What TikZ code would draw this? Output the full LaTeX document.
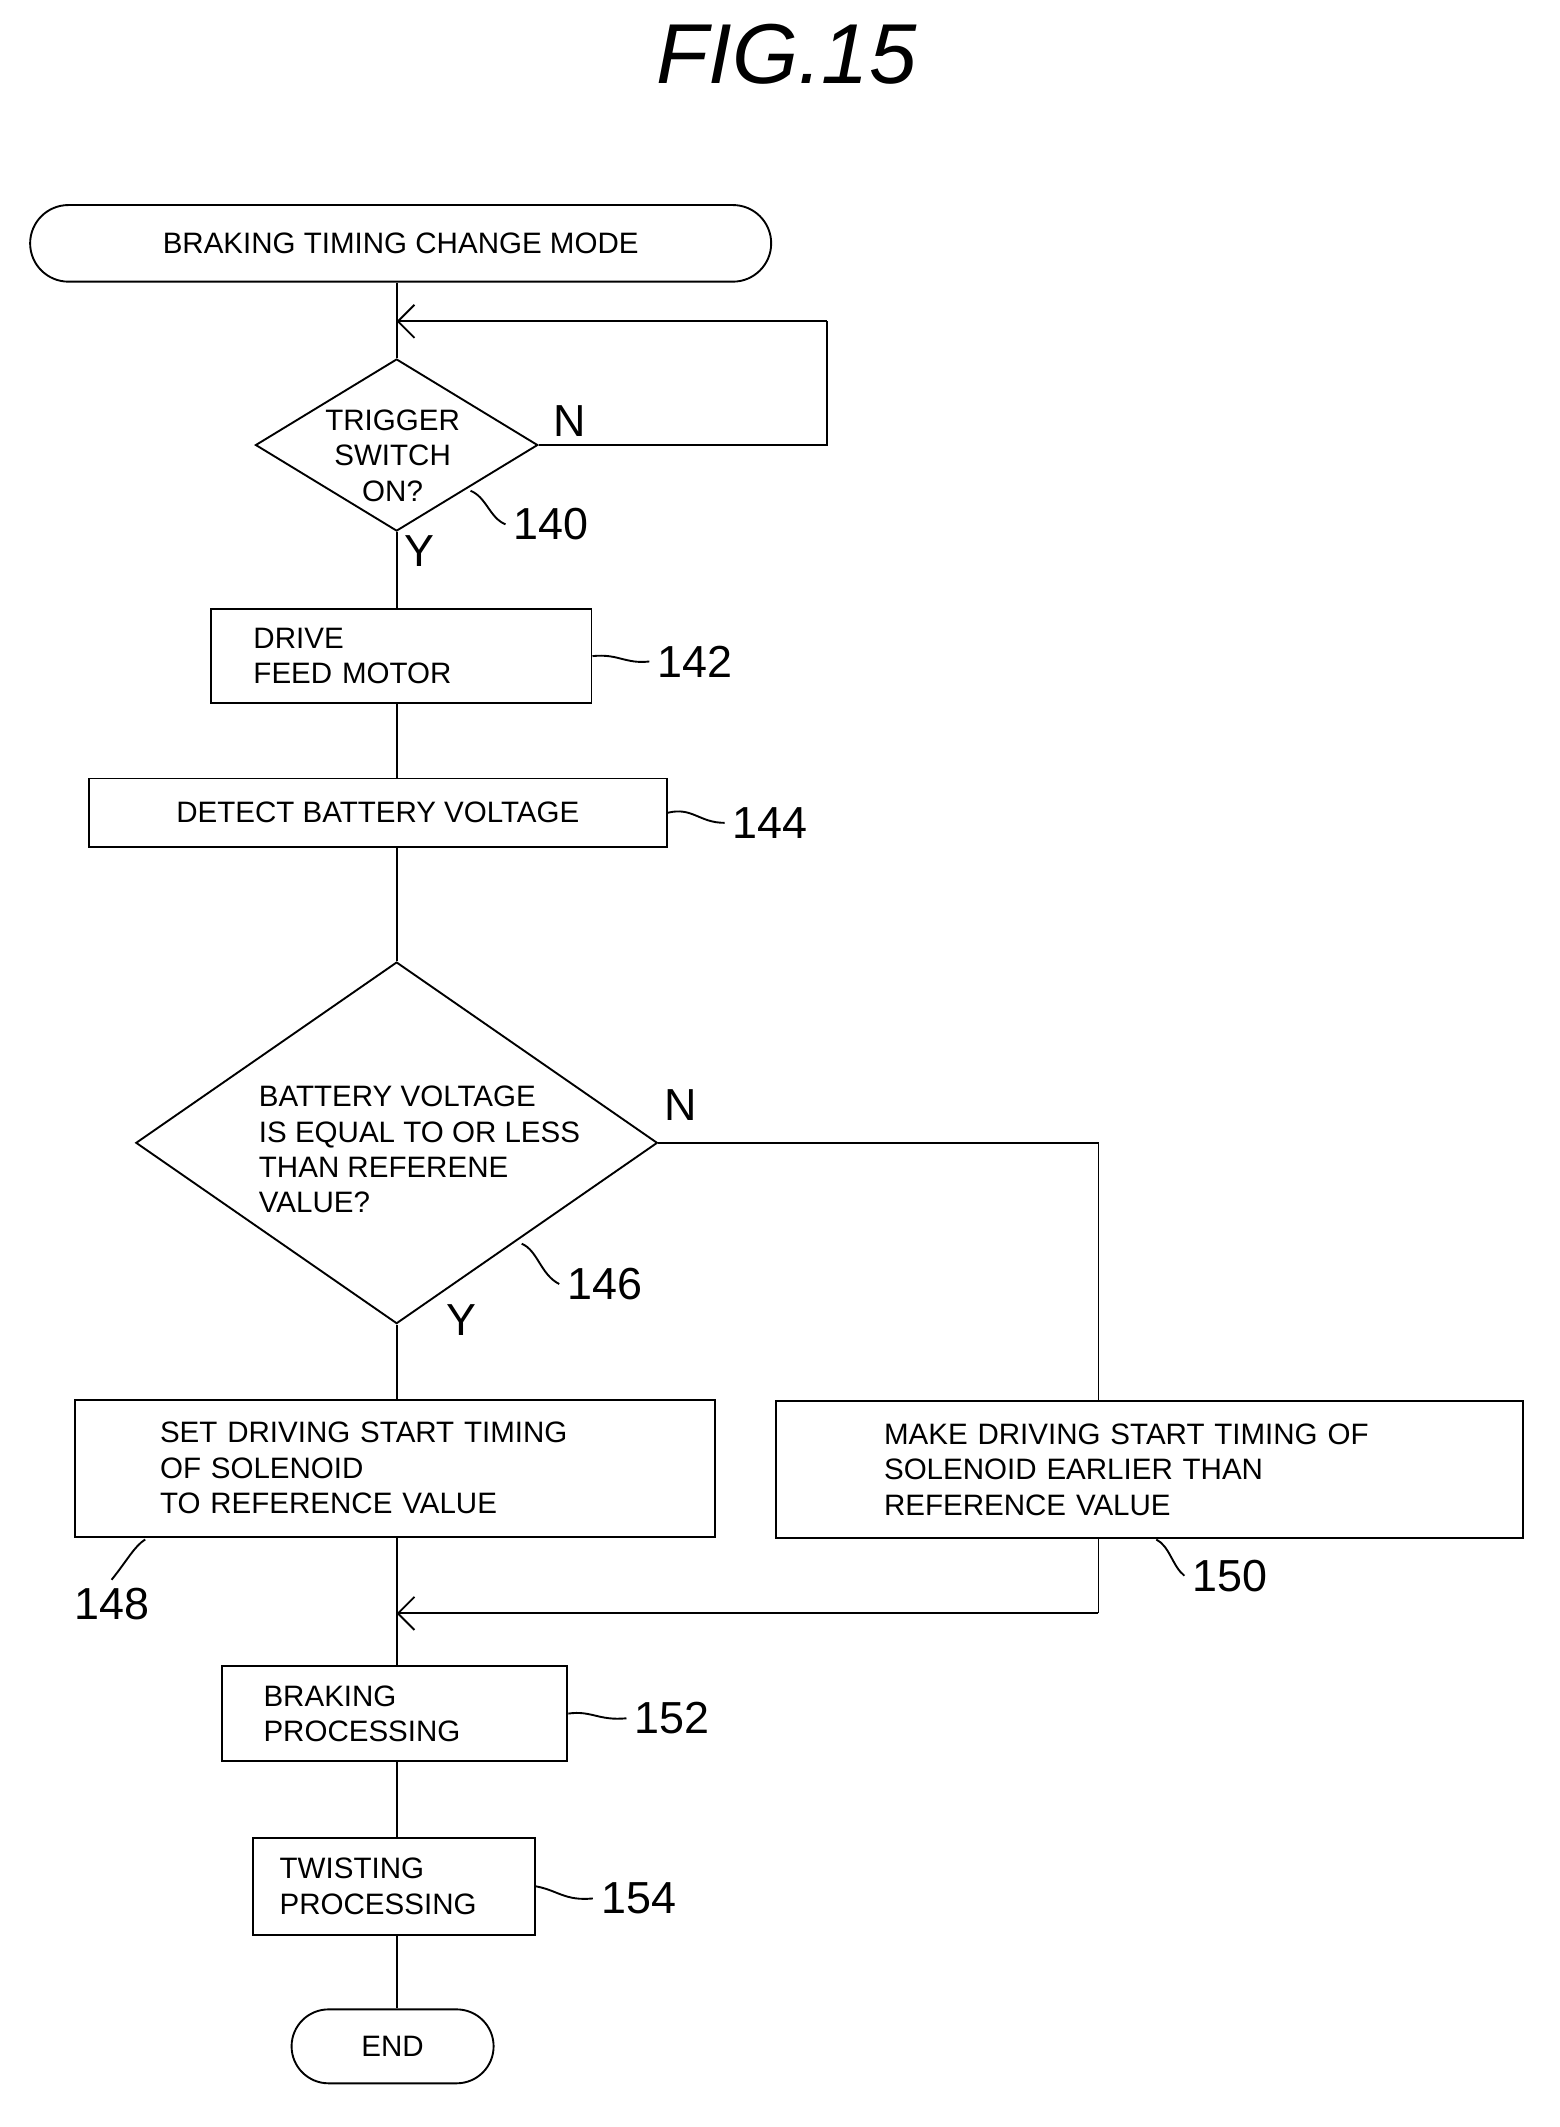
\documentclass[tikz,border=0pt]{standalone}
\usepackage{fontspec}
\setmainfont{Liberation Sans}
\usetikzlibrary{shapes.geometric,shapes.misc,arrows.meta}
\tikzset{
  box/.style={draw,thick,rectangle,align=left,font=\fontsize{12.5}{15}\selectfont},
  term/.style={draw,thick,rounded rectangle,font=\fontsize{12.5}{15}\selectfont},
  dec/.style={draw,thick,diamond,inner sep=0pt},
  txt/.style={align=left,font=\fontsize{12.5}{15}\selectfont},
  num/.style={font=\fontsize{19}{20}\selectfont},
  yn/.style={font=\fontsize{19}{20}\selectfont},
  flow/.style={thick},
  back/.style={thick,-{Straight Barb[length=7pt,width=14pt]}},
  lead/.style={thick}
}
\begin{document}
\begin{tikzpicture}[x=0.02cm,y=-0.02cm]
\useasboundingbox (0,0) rectangle (1160,1582);
\node[font=\fontsize{36}{40}\selectfont\itshape] (title) at (585,40) {FIG.15};

% start
\node[term,minimum width=11.26cm,minimum height=1.14cm] (start) at (298,181) {BRAKING TIMING CHANGE MODE};
\coordinate (spine) at (295,0);
\coordinate (top) at (295,239);
\coordinate (loopR) at (615,239);
\node[dec,minimum width=4.2cm,minimum height=2.56cm] (d140) at (295,331) {};
\node[txt,align=center] (t140) at (292,339) {TRIGGER\\SWITCH\\ON?};
\coordinate (loopB) at (615,331);
\draw[flow] (start.south -| spine) -- (d140.north);
\draw[flow] (d140.east) -- (loopB) -- (loopR);
\draw[back] (loopR) -- (top);
\node[yn] at (424,313) {N};
\node[yn] at (312,410) {Y};
\node[num] (n140) at (410,390) {140};
\draw[lead] (350,365) .. controls (362,370) and (364,385) .. (n140.west);

% 142, 144
\node[box,minimum width=5.66cm,minimum height=1.4cm,text width=4.4cm] (b142) at (298.5,488) {DRIVE\\FEED MOTOR};
\node[num] (n142) at (517,492) {142};
\draw[lead] (b142.east) .. controls (460,486) and (465,494) .. (n142.west);
\node[box,minimum width=8.6cm,minimum height=1.02cm,align=center] (b144) at (281,604.5) {DETECT BATTERY VOLTAGE};
\node[num] (n144) at (573,612) {144};
\draw[lead] (b144.east) .. controls (515,600) and (520,612) .. (n144.west);
\draw[flow] (d140.south) -- (b142.north -| spine);
\draw[flow] (b142.south -| spine) -- (b144.north -| spine);

% 146
\node[dec,minimum width=7.76cm,minimum height=5.38cm] (d146) at (295,850) {};
\node[txt] (t146) at (312,855) {BATTERY VOLTAGE\\IS EQUAL TO OR LESS\\THAN REFERENE\\VALUE?};
\draw[flow] (b144.south -| spine) -- (d146.north);
\node[yn] at (506,822) {N};
\node[yn] at (343,982) {Y};
\node[num] (n146) at (450,955) {146};
\draw[lead] (388,925) .. controls (400,930) and (402,948) .. (n146.west);

% 148, 150
\node[box,minimum width=9.52cm,minimum height=2.04cm,text width=7.0cm] (b148) at (294,1092) {SET DRIVING START TIMING\\OF SOLENOID\\TO REFERENCE VALUE};
\node[num] (n148) at (83,1193) {148};
\draw[lead] (108,1145) .. controls (100,1150) and (95,1160) .. (n148.north);
\node[box,minimum width=11.12cm,minimum height=2.04cm,text width=7.9cm] (b150) at (855,1093) {MAKE DRIVING START TIMING OF\\SOLENOID EARLIER THAN\\REFERENCE VALUE};
\node[num] (n150) at (915,1172) {150};
\draw[lead] (860,1145) .. controls (870,1150) and (872,1165) .. (n150.west);
\coordinate (nR) at (817,850);
\coordinate (mR) at (817,1200);
\coordinate (merge) at (295,1200);
\draw[flow] (d146.south) -- (b148.north -| spine);
\draw[flow] (d146.east) -- (nR) -- (b150.north -| nR);
\draw[flow] (b150.south -| nR) -- (mR);
\draw[back] (mR) -- (merge);

% 152, 154, end
\node[box,minimum width=5.14cm,minimum height=1.42cm,text width=3.9cm] (b152) at (293.5,1274.5) {BRAKING\\PROCESSING};
\node[num] (n152) at (500,1278) {152};
\draw[lead] (b152.east) .. controls (440,1272) and (445,1280) .. (n152.west);
\node[box,minimum width=4.2cm,minimum height=1.44cm,text width=3.4cm] (b154) at (293,1403) {TWISTING\\PROCESSING};
\node[num] (n154) at (475,1412) {154};
\draw[lead] (b154.east) .. controls (415,1406) and (420,1414) .. (n154.west);
\node[term,minimum width=3.24cm,minimum height=1.1cm] (end) at (292,1522) {END};
\draw[flow] (b148.south -| spine) -- (b152.north -| spine);
\draw[flow] (b152.south -| spine) -- (b154.north -| spine);
\draw[flow] (b154.south -| spine) -- (end.north -| spine);
\end{tikzpicture}
\end{document}
